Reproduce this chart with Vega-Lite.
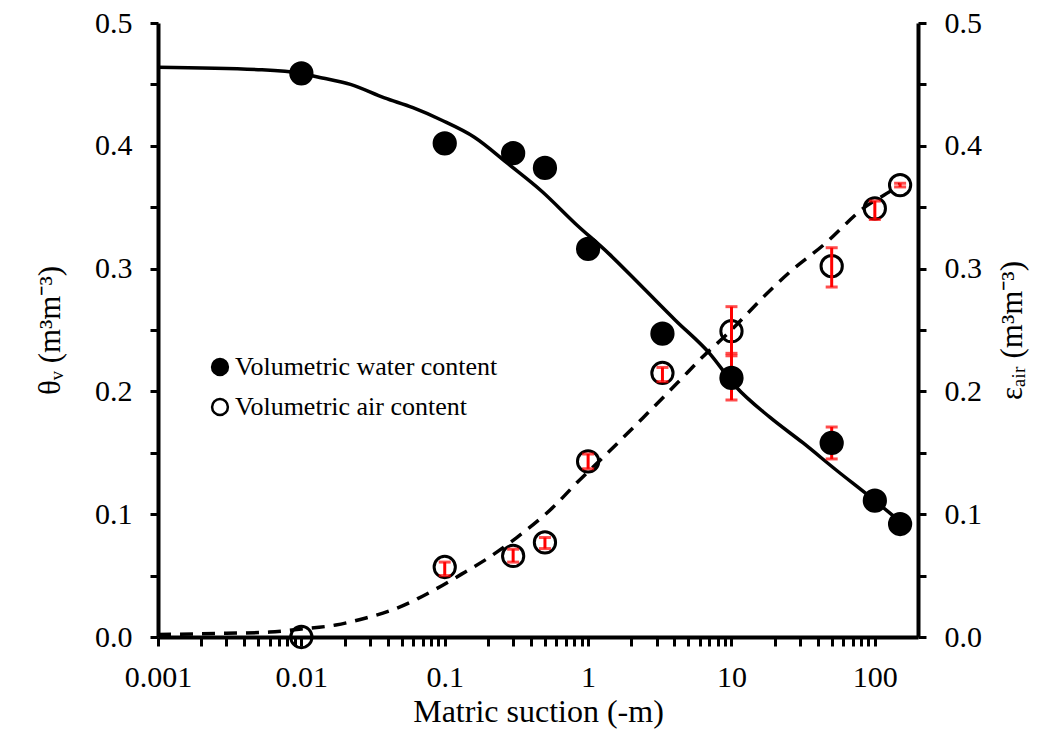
{
  "$schema": "https://vega.github.io/schema/vega-lite/v6.json",
  "width": 760,
  "height": 614,
  "autosize": {"type": "none"},
  "padding": {"left": 158, "top": 23, "right": 120, "bottom": 105},
  "background": "white",
  "datasets": {
    "water_curve": [
      {"suction": 0.001, "theta": 0.464},
      {"suction": 0.005, "theta": 0.462},
      {"suction": 0.01, "theta": 0.459},
      {"suction": 0.013, "theta": 0.456},
      {"suction": 0.022, "theta": 0.450},
      {"suction": 0.038, "theta": 0.439},
      {"suction": 0.06, "theta": 0.431},
      {"suction": 0.0946, "theta": 0.421},
      {"suction": 0.161, "theta": 0.407},
      {"suction": 0.279, "theta": 0.385},
      {"suction": 0.475, "theta": 0.363},
      {"suction": 0.809, "theta": 0.337},
      {"suction": 1.4, "theta": 0.312},
      {"suction": 2.39, "theta": 0.285},
      {"suction": 4.06, "theta": 0.258},
      {"suction": 7.03, "theta": 0.231},
      {"suction": 10.7, "theta": 0.204},
      {"suction": 18.5, "theta": 0.179},
      {"suction": 31.6, "theta": 0.158},
      {"suction": 53.7, "theta": 0.136},
      {"suction": 93, "theta": 0.114},
      {"suction": 150, "theta": 0.094}
    ],
    "air_curve": [
      {"suction": 0.001, "theta": 0.002},
      {"suction": 0.003, "theta": 0.003},
      {"suction": 0.006, "theta": 0.004},
      {"suction": 0.01, "theta": 0.0065},
      {"suction": 0.0174, "theta": 0.0098},
      {"suction": 0.0282, "theta": 0.0155},
      {"suction": 0.043, "theta": 0.022},
      {"suction": 0.0643, "theta": 0.031},
      {"suction": 0.0962, "theta": 0.042},
      {"suction": 0.139, "theta": 0.053},
      {"suction": 0.199, "theta": 0.064},
      {"suction": 0.318, "theta": 0.081},
      {"suction": 0.586, "theta": 0.107},
      {"suction": 0.809, "theta": 0.124},
      {"suction": 1.4, "theta": 0.151},
      {"suction": 2.39, "theta": 0.178},
      {"suction": 4.2, "theta": 0.207},
      {"suction": 6.28, "theta": 0.228},
      {"suction": 9.4, "theta": 0.247},
      {"suction": 18.5, "theta": 0.282},
      {"suction": 26, "theta": 0.298},
      {"suction": 43.6, "theta": 0.319},
      {"suction": 83, "theta": 0.349},
      {"suction": 139, "theta": 0.366},
      {"suction": 150, "theta": 0.369}
    ],
    "points": [
      {"series": "Volumetric water content", "suction": 0.01, "theta": 0.459},
      {"series": "Volumetric water content", "suction": 0.1, "theta": 0.402},
      {"series": "Volumetric water content", "suction": 0.3, "theta": 0.394},
      {"series": "Volumetric water content", "suction": 0.5, "theta": 0.382},
      {"series": "Volumetric water content", "suction": 1, "theta": 0.316},
      {"series": "Volumetric water content", "suction": 3.3, "theta": 0.247},
      {"series": "Volumetric water content", "suction": 10, "theta": 0.211, "lo": 0.193, "hi": 0.231},
      {"series": "Volumetric water content", "suction": 50, "theta": 0.158, "lo": 0.145, "hi": 0.171},
      {"series": "Volumetric water content", "suction": 100, "theta": 0.111},
      {"series": "Volumetric water content", "suction": 150, "theta": 0.092},
      {"series": "Volumetric air content", "suction": 0.01, "theta": 0.0},
      {"series": "Volumetric air content", "suction": 0.1, "theta": 0.057, "lo": 0.050, "hi": 0.061},
      {"series": "Volumetric air content", "suction": 0.3, "theta": 0.066, "lo": 0.061, "hi": 0.0715},
      {"series": "Volumetric air content", "suction": 0.5, "theta": 0.077, "lo": 0.072, "hi": 0.081},
      {"series": "Volumetric air content", "suction": 1, "theta": 0.143, "lo": 0.137, "hi": 0.149},
      {"series": "Volumetric air content", "suction": 3.3, "theta": 0.215, "lo": 0.208, "hi": 0.2195},
      {"series": "Volumetric air content", "suction": 10, "theta": 0.249, "lo": 0.229, "hi": 0.269},
      {"series": "Volumetric air content", "suction": 50, "theta": 0.302, "lo": 0.285, "hi": 0.317},
      {"series": "Volumetric air content", "suction": 100, "theta": 0.349, "lo": 0.340, "hi": 0.355},
      {"series": "Volumetric air content", "suction": 150, "theta": 0.368, "lo": 0.3665, "hi": 0.3695}
    ]
  },
  "layer": [
    {
      "data": {"name": "water_curve"},
      "mark": {"type": "line", "color": "black", "strokeWidth": 3.5, "interpolate": "monotone"},
      "encoding": {
        "x": {
          "field": "suction", "type": "quantitative",
          "scale": {"type": "log", "domain": [0.001, 200], "nice": false},
          "axis": {
            "orient": "bottom",
            "values": [0.001, 0.002, 0.003, 0.004, 0.005, 0.006, 0.007, 0.008, 0.009,
                       0.01, 0.02, 0.03, 0.04, 0.05, 0.06, 0.07, 0.08, 0.09,
                       0.1, 0.2, 0.3, 0.4, 0.5, 0.6, 0.7, 0.8, 0.9,
                       1, 2, 3, 4, 5, 6, 7, 8, 9,
                       10, 20, 30, 40, 50, 60, 70, 80, 90, 100],
            "labelExpr": "abs(log(datum.value)/LN10 - round(log(datum.value)/LN10)) < 0.001 ? format(datum.value, '~g') : ''",
            "labelFontSize": 30,
            "labelFlush": false,
            "labelOverlap": false,
            "labelPadding": 16,
            "tickSize": 9,
            "tickWidth": 3,
            "domainWidth": 4,
            "encode": {
              "ticks": {
                "update": {
                  "y": {"value": -7},
                  "y2": [
                    {"test": "abs(log(datum.value)/LN10 - round(log(datum.value)/LN10)) < 0.001", "value": 9},
                    {"value": 0}
                  ]
                }
              }
            },
            "title": "Matric suction (-m)",
            "titleFontSize": 32,
            "titleX": 380,
            "titleY": 84,
            "titleBaseline": "alphabetic",
            "titleAlign": "center"
          }
        },
        "y": {
          "field": "theta", "type": "quantitative",
          "scale": {"domain": [0, 0.5], "nice": false},
          "axis": {
            "orient": "left",
            "values": [0, 0.05, 0.1, 0.15, 0.2, 0.25, 0.3, 0.35, 0.4, 0.45, 0.5],
            "labelExpr": "abs(datum.value*10 - round(datum.value*10)) < 0.001 ? format(datum.value, '.1f') : ''",
            "labelFontSize": 30,
            "labelOverlap": false,
            "labelPadding": 18,
            "tickSize": 8,
            "tickWidth": 3,
            "domainWidth": 4,
            "encode": {
              "ticks": {
                "update": {
                  "x": {"value": 7},
                  "x2": [
                    {"test": "abs(datum.value*10 - round(datum.value*10)) < 0.001", "value": -8},
                    {"value": 0}
                  ]
                }
              }
            },
            "title": "θᵥ (m³m⁻³)",
            "titleFontSize": 31,
            "titleAngle": -90,
            "titleX": -108,
            "titleY": 307,
            "titleBaseline": "middle",
            "titleAlign": "center"
          }
        }
      }
    },
    {
      "data": {"name": "air_curve"},
      "mark": {"type": "line", "color": "black", "strokeWidth": 3.5, "strokeDash": [13, 9], "interpolate": "monotone"},
      "encoding": {
        "x": {"field": "suction", "type": "quantitative", "scale": {"type": "log", "domain": [0.001, 200], "nice": false}, "axis": null},
        "y": {"field": "theta", "type": "quantitative", "scale": {"domain": [0, 0.5], "nice": false}, "axis": null}
      }
    },
    {
      "data": {"name": "points"},
      "transform": [{"filter": "datum.series == 'Volumetric water content' && isValid(datum.lo)"}],
      "mark": {"type": "errorbar", "color": "red", "thickness": 3, "size": 12, "ticks": true},
      "encoding": {
        "x": {"field": "suction", "type": "quantitative", "scale": {"type": "log", "domain": [0.001, 200], "nice": false}, "axis": null},
        "y": {"field": "lo", "type": "quantitative", "scale": {"domain": [0, 0.5], "nice": false}, "axis": null},
        "y2": {"field": "hi"}
      }
    },
    {
      "data": {"name": "points"},
      "transform": [{"filter": "datum.series == 'Volumetric water content'"}],
      "mark": {"type": "point", "filled": true, "stroke": "black", "strokeWidth": 3, "size": 452, "opacity": 1},
      "encoding": {
        "x": {"field": "suction", "type": "quantitative", "scale": {"type": "log", "domain": [0.001, 200], "nice": false}, "axis": null},
        "y": {
          "field": "theta", "type": "quantitative",
          "scale": {"domain": [0, 0.5], "nice": false},
          "axis": {
            "orient": "right",
            "values": [0, 0.05, 0.1, 0.15, 0.2, 0.25, 0.3, 0.35, 0.4, 0.45, 0.5],
            "labelExpr": "abs(datum.value*10 - round(datum.value*10)) < 0.001 ? format(datum.value, '.1f') : ''",
            "labelFontSize": 30,
            "labelOverlap": false,
            "labelPadding": 18,
            "tickSize": 8,
            "tickWidth": 3,
            "domainWidth": 4,
            "encode": {
              "ticks": {
                "update": {
                  "x": {"value": -7},
                  "x2": [
                    {"test": "abs(datum.value*10 - round(datum.value*10)) < 0.001", "value": 8},
                    {"value": 0}
                  ]
                }
              }
            },
            "title": "εₐᵢᵣ (m³m⁻³)",
            "titleFontSize": 31,
            "titleAngle": -90,
            "titleX": 94,
            "titleY": 307,
            "titleBaseline": "middle",
            "titleAlign": "center"
          }
        },
        "fill": {
          "field": "series", "type": "nominal",
          "scale": {"domain": ["Volumetric water content", "Volumetric air content"], "range": ["black", "transparent"]},
          "legend": {
            "orient": "none",
            "legendX": 49,
            "legendY": 331,
            "title": null,
            "padding": 0,
            "labelFont": "Liberation Serif",
            "labelFontSize": 26,
            "labelColor": "black",
            "labelLimit": 500,
            "labelOffset": 2,
            "symbolType": "circle",
            "symbolSize": 250,
            "symbolStrokeColor": "black",
            "symbolStrokeWidth": 2.5,
            "symbolOpacity": 1,
            "rowPadding": 14
          }
        }
      }
    },
    {
      "data": {"name": "points"},
      "transform": [{"filter": "datum.series == 'Volumetric air content'"}],
      "mark": {"type": "point", "filled": true, "stroke": "black", "strokeWidth": 3, "size": 452, "opacity": 1},
      "encoding": {
        "x": {"field": "suction", "type": "quantitative", "scale": {"type": "log", "domain": [0.001, 200], "nice": false}, "axis": null},
        "y": {"field": "theta", "type": "quantitative", "scale": {"domain": [0, 0.5], "nice": false}, "axis": null},
        "fill": {
          "field": "series", "type": "nominal",
          "scale": {"domain": ["Volumetric water content", "Volumetric air content"], "range": ["black", "transparent"]}
        }
      }
    },
    {
      "data": {"name": "points"},
      "transform": [{"filter": "datum.series == 'Volumetric air content' && isValid(datum.lo)"}],
      "mark": {"type": "errorbar", "color": "red", "thickness": 3, "size": 12, "ticks": true},
      "encoding": {
        "x": {"field": "suction", "type": "quantitative", "scale": {"type": "log", "domain": [0.001, 200], "nice": false}, "axis": null},
        "y": {"field": "lo", "type": "quantitative", "scale": {"domain": [0, 0.5], "nice": false}, "axis": null},
        "y2": {"field": "hi"}
      }
    }
  ],
  "resolve": {"axis": {"x": "independent", "y": "independent"}},
  "config": {
    "view": {"stroke": null},
    "axis": {
      "labelFont": "Liberation Serif",
      "titleFont": "Liberation Serif",
      "labelColor": "black",
      "titleColor": "black",
      "domainColor": "black",
      "tickColor": "black",
      "grid": false,
      "titleFontWeight": "normal"
    }
  }
}
